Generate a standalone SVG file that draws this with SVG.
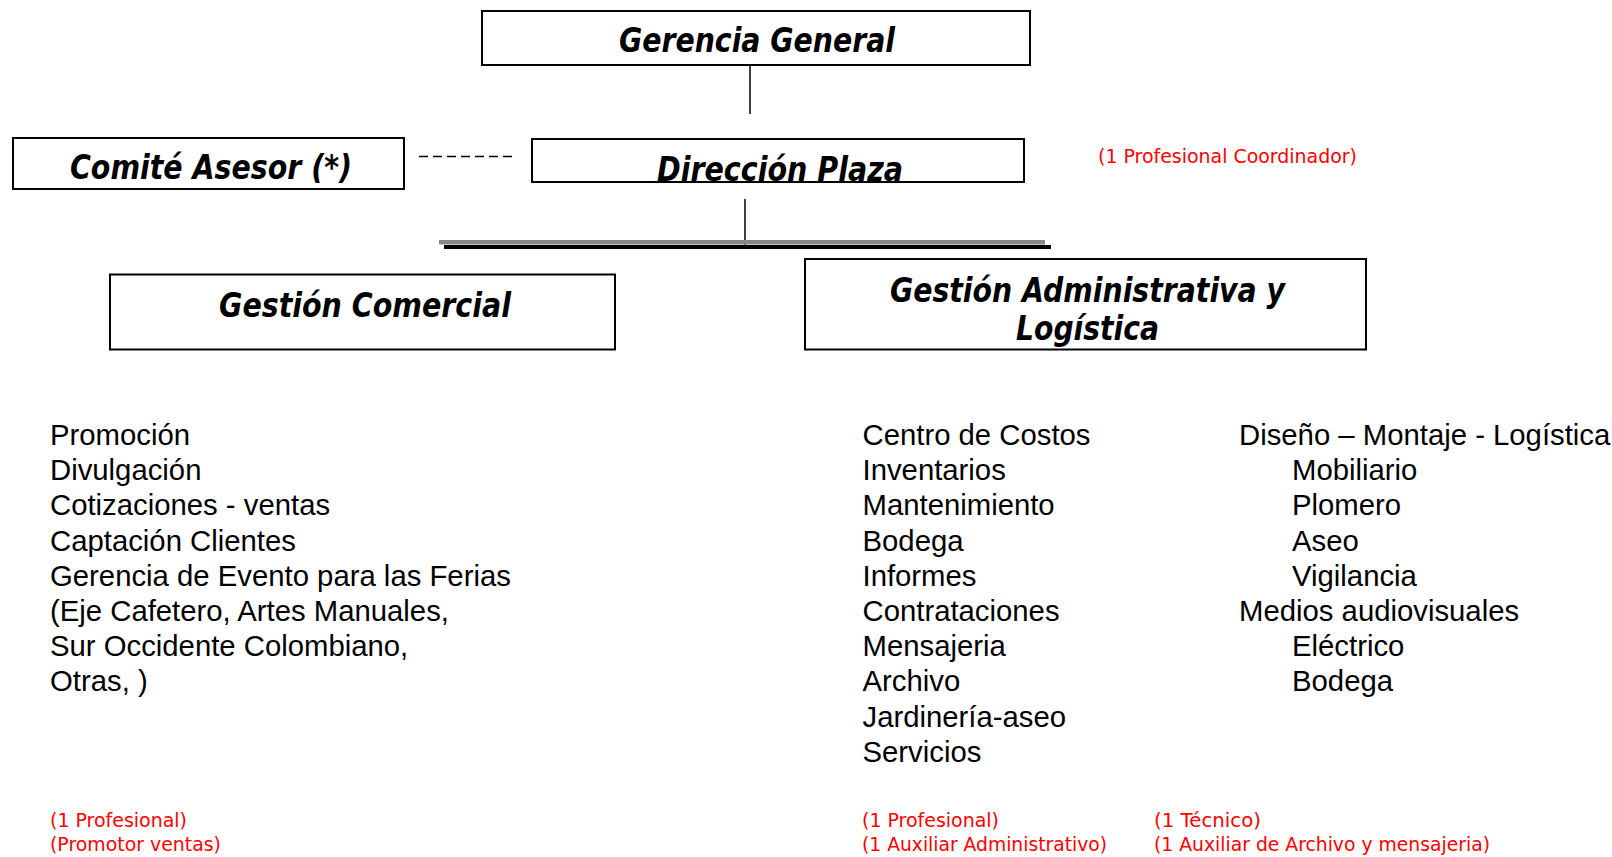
<svg xmlns="http://www.w3.org/2000/svg" width="1612" height="857" viewBox="0 0 1612 857">
<style>
.box{fill:#fff;stroke:#000;stroke-width:2}
.bt{font-family:"DejaVu Sans Condensed","DejaVu Sans",sans-serif;font-weight:bold;font-style:italic;font-size:34px;fill:#000;text-anchor:start}
.lst{font-family:"Liberation Sans",Arial,sans-serif;font-size:29.3px;fill:#000}
.red{font-family:"DejaVu Sans","Noto Sans",sans-serif;font-size:19px;fill:#ff0000}
.ln{stroke:#000;stroke-width:1.5;fill:none}
</style>
<rect width="1612" height="857" fill="#fff"/>
<g id="connectors">
<line class="ln" x1="750" y1="60" x2="750" y2="114"/>
<line class="ln" x1="745" y1="199" x2="745" y2="245"/>
<line x1="419" y1="156.5" x2="514" y2="156.5" stroke="#000" stroke-width="1.5" stroke-dasharray="9,5"/>
<rect x="439" y="240" width="606" height="4.5" fill="#888"/>
<rect x="444" y="245" width="607" height="4" fill="#000"/>
</g>
<g id="gerencia-general">
<rect class="box" x="482" y="11" width="548" height="54"/>
<text class="bt" x="619" y="52" textLength="276" lengthAdjust="spacingAndGlyphs">Gerencia General</text>
</g>
<g id="comite-asesor">
<rect class="box" x="13" y="138" width="391" height="51"/>
<text class="bt" x="70" y="179" textLength="282" lengthAdjust="spacingAndGlyphs">Comité Asesor (*)</text>
</g>
<g id="direccion-plaza">
<rect class="box" x="532" y="139" width="492" height="43"/>
<text class="bt" x="657" y="181" textLength="246" lengthAdjust="spacingAndGlyphs">Dirección Plaza</text>
</g>
<g id="coordinador">
<text class="red" x="1098" y="163" textLength="259" lengthAdjust="spacingAndGlyphs">(1 Profesional Coordinador)</text>
</g>
<g id="gestion-comercial">
<rect class="box" x="110" y="274.5" width="505" height="75"/>
<text class="bt" x="219" y="317" textLength="292" lengthAdjust="spacingAndGlyphs">Gestión Comercial</text>
</g>
<g id="gestion-administrativa">
<rect class="box" x="805" y="259" width="561" height="90.5"/>
<text class="bt" x="890" y="302" textLength="395" lengthAdjust="spacingAndGlyphs">Gestión Administrativa y</text>
<text class="bt" x="1016" y="340" textLength="143" lengthAdjust="spacingAndGlyphs">Logística</text>
</g>
<g id="comercial-list">
<text class="lst" x="50" y="445">Promoción</text>
<text class="lst" x="50" y="480.2">Divulgación</text>
<text class="lst" x="50" y="515.4">Cotizaciones - ventas</text>
<text class="lst" x="50" y="550.6">Captación Clientes</text>
<text class="lst" x="50" y="585.8">Gerencia de Evento para las Ferias</text>
<text class="lst" x="50" y="621">(Eje Cafetero, Artes Manuales,</text>
<text class="lst" x="50" y="656.2">Sur Occidente Colombiano,</text>
<text class="lst" x="50" y="691.4">Otras, )</text>
</g>
<g id="admin-list">
<text class="lst" x="862.5" y="445">Centro de Costos</text>
<text class="lst" x="862.5" y="480.2">Inventarios</text>
<text class="lst" x="862.5" y="515.4">Mantenimiento</text>
<text class="lst" x="862.5" y="550.6">Bodega</text>
<text class="lst" x="862.5" y="585.8">Informes</text>
<text class="lst" x="862.5" y="621">Contrataciones</text>
<text class="lst" x="862.5" y="656.2">Mensajeria</text>
<text class="lst" x="862.5" y="691.4">Archivo</text>
<text class="lst" x="862.5" y="726.6">Jardinería-aseo</text>
<text class="lst" x="862.5" y="761.8">Servicios</text>
</g>
<g id="logistica-list">
<text class="lst" x="1239" y="445">Diseño – Montaje - Logística</text>
<text class="lst" x="1292" y="480.2">Mobiliario</text>
<text class="lst" x="1292" y="515.4">Plomero</text>
<text class="lst" x="1292" y="550.6">Aseo</text>
<text class="lst" x="1292" y="585.8">Vigilancia</text>
<text class="lst" x="1239" y="621">Medios audiovisuales</text>
<text class="lst" x="1292" y="656.2">Eléctrico</text>
<text class="lst" x="1292" y="691.4">Bodega</text>
</g>
<g id="staff">
<text class="red" x="50" y="827" textLength="137" lengthAdjust="spacingAndGlyphs">(1 Profesional)</text>
<text class="red" x="50" y="851" textLength="171" lengthAdjust="spacingAndGlyphs">(Promotor ventas)</text>
<text class="red" x="862" y="827" textLength="137" lengthAdjust="spacingAndGlyphs">(1 Profesional)</text>
<text class="red" x="862" y="851" textLength="245" lengthAdjust="spacingAndGlyphs">(1 Auxiliar Administrativo)</text>
<text class="red" x="1154" y="827" textLength="107" lengthAdjust="spacingAndGlyphs">(1 Técnico)</text>
<text class="red" x="1154" y="851" textLength="336" lengthAdjust="spacingAndGlyphs">(1 Auxiliar de Archivo y mensajeria)</text>
</g>
</svg>
